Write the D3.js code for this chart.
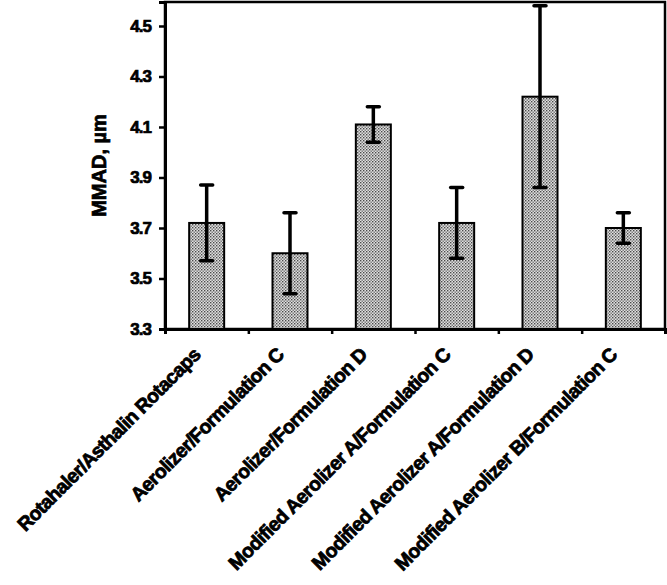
<!DOCTYPE html>
<html>
<head>
<meta charset="utf-8">
<script src="https://cdn.jsdelivr.net/npm/d3@7"></script>
<style>
  html, body { margin: 0; padding: 0; background: #fff; }
  svg { display: block; }
  text { font-family: "Liberation Sans", Arial, sans-serif; font-weight: bold; fill: #000; }
</style>
</head>
<body>
<div id="chart"></div>
<script>
// Data
const categories = [
  'Rotahaler/Asthalin Rotacaps',
  'Aerolizer/Formulation C',
  'Aerolizer/Formulation D',
  'Modified Aerolizer A/Formulation C',
  'Modified Aerolizer A/Formulation D',
  'Modified Aerolizer B/Formulation C'
];
const mmad = [3.72, 3.60, 4.11, 3.72, 4.22, 3.70];
const errHigh = [3.87, 3.76, 4.18, 3.86, 4.58, 3.76];
const errLow = [3.57, 3.44, 4.04, 3.58, 3.86, 3.64];
const yTicks = [3.3, 3.5, 3.7, 3.9, 4.1, 4.3, 4.5];

const width = 667, height = 585;
const margin = { top: 2, right: 2, bottom: 256, left: 165 };
const innerW = width - margin.left - margin.right;
const innerH = height - margin.top - margin.bottom;

const svg = d3.select('#chart').append('svg')
  .attr('width', width)
  .attr('height', height);

// stipple fill like the original
const pat = svg.append('defs').append('pattern')
  .attr('id', 'dots')
  .attr('patternUnits', 'userSpaceOnUse')
  .attr('width', 3).attr('height', 3);
pat.append('rect').attr('width', 3).attr('height', 3).attr('fill', '#e0e0e0');
pat.append('rect').attr('x', 0).attr('y', 0).attr('width', 1.4).attr('height', 1.4).attr('fill', '#4a4a4a');
pat.append('rect').attr('x', 1.5).attr('y', 1.5).attr('width', 1.4).attr('height', 1.4).attr('fill', '#707070');

const g = svg.append('g').attr('transform', `translate(${margin.left},${margin.top})`);

const x = d3.scaleBand().domain(categories).range([0, innerW]).paddingInner(0.58).paddingOuter(0.29);
const xEdges = d3.scaleLinear().domain([0, categories.length]).range([0, innerW]);
const y = d3.scaleLinear().domain([3.3, 4.595]).range([innerH, 0]);

// frame (top + right)
g.append('rect')
  .attr('width', innerW).attr('height', innerH)
  .attr('fill', 'none').attr('stroke', '#000').attr('stroke-width', 2.5);

// bars
g.selectAll('rect.bar')
  .data(mmad)
  .enter().append('rect')
  .attr('class', 'bar')
  .attr('x', (d, i) => x(categories[i]))
  .attr('y', d => y(d))
  .attr('width', x.bandwidth())
  .attr('height', d => innerH - y(d))
  .attr('fill', 'url(#dots)')
  .attr('stroke', '#000')
  .attr('stroke-width', 2);

// error bars
const eb = g.selectAll('g.err').data(mmad).enter().append('g').attr('class', 'err');
eb.append('line')
  .attr('x1', (d, i) => x(categories[i]) + x.bandwidth() / 2)
  .attr('x2', (d, i) => x(categories[i]) + x.bandwidth() / 2)
  .attr('y1', (d, i) => y(errLow[i]))
  .attr('y2', (d, i) => y(errHigh[i]))
  .attr('stroke', '#000').attr('stroke-width', 3.5);
[errLow, errHigh].forEach(arr => {
  eb.append('line')
    .attr('x1', (d, i) => x(categories[i]) + x.bandwidth() / 2 - 6)
    .attr('x2', (d, i) => x(categories[i]) + x.bandwidth() / 2 + 6)
    .attr('y1', (d, i) => y(arr[i]))
    .attr('y2', (d, i) => y(arr[i]))
    .attr('stroke', '#000').attr('stroke-width', 3.5)
    .attr('stroke-linecap', 'round');
});

// y axis
const yAxis = g.append('g')
  .call(d3.axisLeft(y).tickValues(yTicks).tickFormat(d3.format('.1f')).tickSize(6).tickPadding(8));
yAxis.select('.domain').attr('stroke-width', 3);
yAxis.selectAll('.tick line').attr('stroke-width', 2.5);
yAxis.selectAll('text')
  .attr('font-size', 17)
  .style('font-family', '"Liberation Sans", Arial, sans-serif')
  .style('font-weight', 'bold')
  .attr('letter-spacing', -1)
  .attr('stroke', '#000').attr('stroke-width', 0.7);

// x axis (ticks at category boundaries)
const xAxis = g.append('g')
  .attr('transform', `translate(0,${innerH})`)
  .call(d3.axisBottom(xEdges).tickValues(d3.range(categories.length + 1)).tickSize(5).tickFormat(''));
xAxis.select('.domain').attr('stroke-width', 3);
xAxis.selectAll('.tick line').attr('stroke-width', 2.5);

// rotated category labels
g.append('g').selectAll('text')
  .data(categories)
  .enter().append('text')
  .attr('transform', d => `translate(${x(d) + x.bandwidth() / 2 - 5},${innerH + 27}) rotate(-45)`)
  .attr('text-anchor', 'end')
  .attr('font-size', 19.5)
  .attr('letter-spacing', -0.6)
  .attr('stroke', '#000').attr('stroke-width', 0.8)
  .text(d => d);

// y axis title
svg.append('text')
  .attr('transform', `translate(106,${margin.top + innerH / 2}) rotate(-90)`)
  .attr('text-anchor', 'middle')
  .attr('font-size', 20)
  .attr('stroke', '#000').attr('stroke-width', 0.7)
  .text('MMAD, \u00b5m');
</script>
</body>
</html>
